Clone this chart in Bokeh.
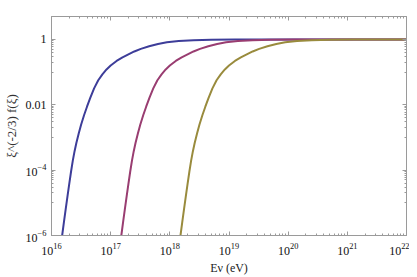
import numpy as np
from bokeh.plotting import figure
from bokeh.models import LogAxis, FixedTicker, Range1d
from bokeh.embed import file_html
from bokeh.resources import INLINE

# ---- data (log10 values) ----
blue_logE = [16.18, 16.21, 16.24, 16.27, 16.30, 16.33, 16.36, 16.39, 16.42, 16.46,
             16.50, 16.55, 16.60, 16.655, 16.72, 16.79, 16.86, 16.93, 17.00, 17.10,
             17.20, 17.30, 17.40, 17.51, 17.65, 17.80, 17.95, 18.15, 18.40, 18.70,
             19.10, 19.60, 20.20, 22.00]
magenta_logE = [17.18, 17.21, 17.24, 17.27, 17.30, 17.33, 17.36, 17.39, 17.42, 17.46,
                17.50, 17.55, 17.60, 17.655, 17.72, 17.79, 17.86, 17.93, 18.00, 18.10,
                18.20, 18.30, 18.40, 18.51, 18.65, 18.80, 18.95, 19.15, 19.40, 19.70,
                20.10, 20.60, 21.20, 22.00]
yellow_logE = [18.18, 18.21, 18.24, 18.27, 18.30, 18.33, 18.36, 18.39, 18.42, 18.46,
               18.50, 18.55, 18.60, 18.655, 18.72, 18.79, 18.86, 18.93, 19.00, 19.10,
               19.20, 19.30, 19.40, 19.51, 19.65, 19.80, 19.95, 20.15, 20.40, 20.70,
               21.10, 21.60, 22.00, 22.00]
curve_logY = [-6.00, -5.59, -5.19, -4.80, -4.42, -4.05, -3.71, -3.42, -3.17, -2.88,
              -2.61, -2.32, -2.06, -1.79, -1.50, -1.25, -1.07, -0.92, -0.80, -0.66,
              -0.55, -0.46, -0.37, -0.29, -0.21, -0.14, -0.09, -0.05, -0.025, -0.012,
              -0.005, -0.002, 0.0, 0.0]

x_major = [1e16, 1e17, 1e18, 1e19, 1e20, 1e21, 1e22]
y_major = [1e-6, 1e-4, 1e-2, 1.0]

colors = ["#3d3d99", "#993d71", "#998b3d"]
FONT = "Liberation Serif"
GRAY = "#9a9a9a"

x_minor = [m * 10.0 ** k for k in range(16, 22) for m in range(2, 10)]
y_minor = [m * 10.0 ** (k - 1) for k in (-4, -2, 0) for m in range(1, 10)]

p = figure(x_axis_type="log", y_axis_type="log",
           x_range=Range1d(1e16, 1e22), y_range=Range1d(1e-6, 10 ** 0.7),
           frame_width=355, frame_height=219,
           min_border_left=51, min_border_right=3, min_border_top=16, min_border_bottom=40,
           output_backend="svg", toolbar_location=None,
           background_fill_color="white", border_fill_color="white")
p.xgrid.visible = False
p.ygrid.visible = False
p.outline_line_color = GRAY

for logE, c in zip([blue_logE, magenta_logE, yellow_logE], colors):
    p.line(10.0 ** np.array(logE), 10.0 ** np.array(curve_logY), line_color=c, line_width=2)

def style(ax, ticks, minor):
    ax.ticker = FixedTicker(ticks=ticks, minor_ticks=minor)
    ax.axis_line_color = GRAY
    ax.major_tick_line_color = GRAY
    ax.minor_tick_line_color = GRAY
    ax.major_tick_in = 4
    ax.major_tick_out = 0
    ax.minor_tick_in = 2
    ax.minor_tick_out = 0
    ax.major_label_text_font = FONT
    ax.major_label_text_color = "#111111"
    ax.major_label_text_font_size = "12px"

xa = p.xaxis[0]
style(xa, x_major, x_minor)
xa.major_label_standoff = 7
xa.axis_label = "Eν (eV)"
xa.axis_label_text_font = FONT
xa.axis_label_text_font_size = "12px"
xa.axis_label_text_font_style = "normal"
xa.axis_label_text_color = "#222222"
xa.axis_label_standoff = 3

ya = p.yaxis[0]
style(ya, y_major, y_minor)
ya.major_label_overrides = {1.0: "1", 0.01: "0.01"}
ya.major_label_standoff = 5
ya.axis_label = "ξ^(-2/3) f(ξ)"
ya.axis_label_text_font = FONT
ya.axis_label_text_font_size = "13px"
ya.axis_label_text_font_style = "normal"
ya.axis_label_text_color = "#333333"
ya.axis_label_standoff = 4

top = LogAxis(major_label_text_alpha=0, major_label_text_font_size="1px", major_label_standoff=0)
style(top, x_major, x_minor)
top.major_label_text_font_size = "1px"
top.major_label_text_alpha = 0
p.add_layout(top, "above")
right = LogAxis(major_label_text_alpha=0, major_label_text_font_size="1px", major_label_standoff=0)
style(right, y_major, y_minor)
right.major_label_text_font_size = "1px"
right.major_label_text_alpha = 0
p.add_layout(right, "right")

open("out.html", "w").write(file_html(p, INLINE))
